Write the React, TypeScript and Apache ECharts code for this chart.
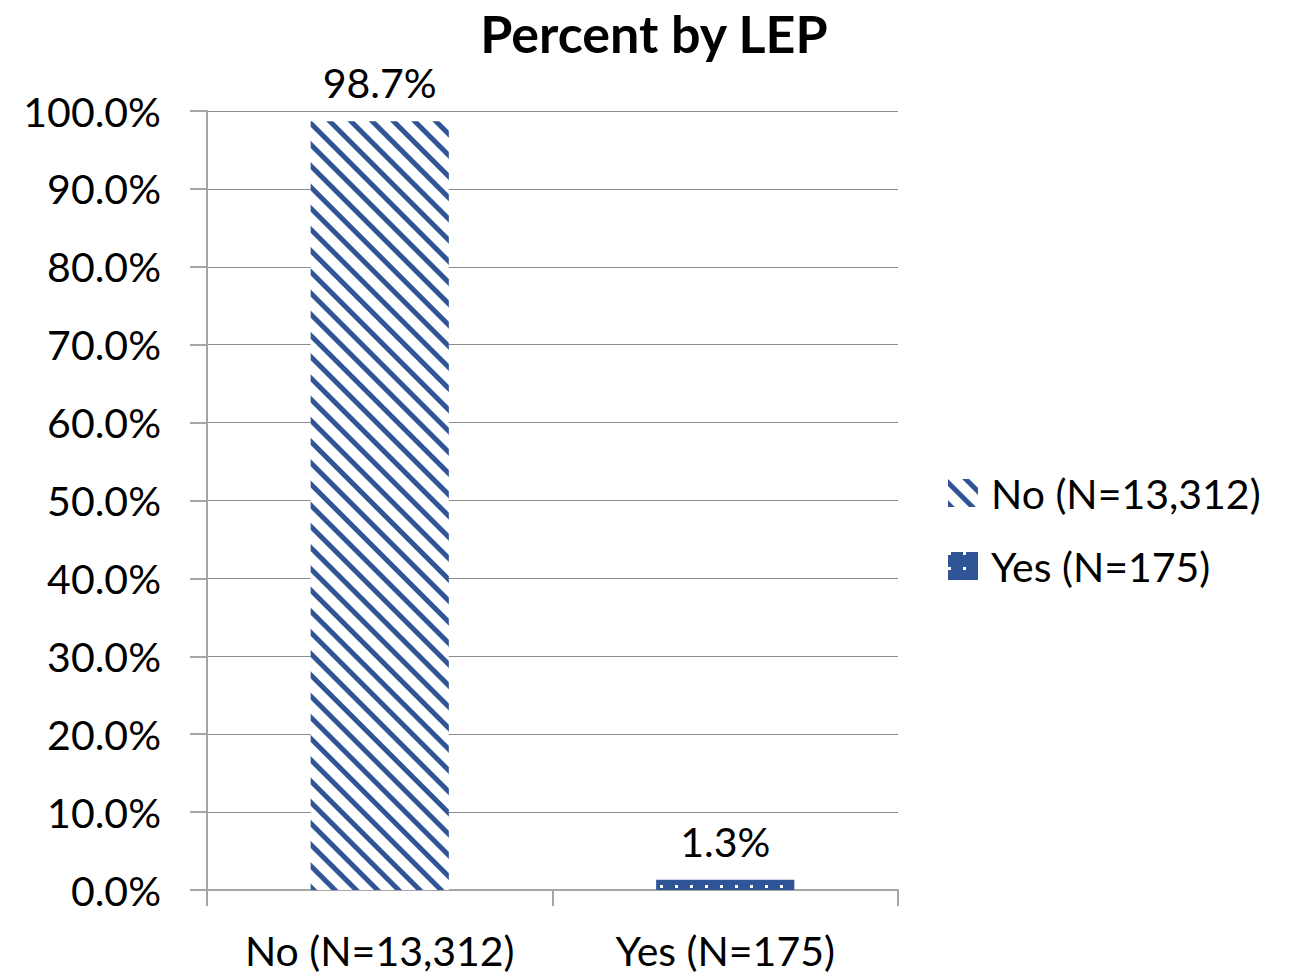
import React, { useEffect, useRef } from "react";
import * as echarts from "echarts";

const title = "Percent by LEP";
const categories = ["No (N=13,312)", "Yes (N=175)"];
const seriesNames = ["No (N=13,312)", "Yes (N=175)"];
const noValues: (number | string)[] = [98.7, "-"];
const yesValues: (number | string)[] = ["-", 1.3];

const BLUE = "#2F5597";
const FONT = "Lato";
const FS = 41;

export default function App() {
  const ref = useRef<HTMLDivElement>(null);
  useEffect(() => {
    const chart = echarts.init(ref.current!, null, { renderer: "svg" });
    const label = {
      show: true,
      position: "top",
      distance: 18,
      color: "#000",
      fontFamily: FONT,
      fontSize: FS,
      formatter: (p: any) => p.value.toFixed(1) + "%",
    };
    chart.setOption({
      animation: false,
      backgroundColor: "#fff",
      title: {
        text: title,
        left: 649,
        textAlign: "center",
        top: 2,
        textStyle: { fontFamily: FONT, fontSize: 52, fontWeight: "bold", color: "#000" },
      },
      legend: {
        orient: "vertical",
        left: 943,
        top: 466,
        itemWidth: 30,
        itemHeight: 28,
        itemGap: 29,
        icon: "rect",
        textStyle: { fontFamily: FONT, fontSize: FS, lineHeight: 44, color: "#000", padding: [0, 0, 0, 8] },
        data: seriesNames,
      },
      grid: { left: 207, right: 396, top: 111, bottom: 87, containLabel: false },
      xAxis: {
        type: "category",
        data: categories,
        axisLine: { lineStyle: { color: "#A6A6A6", width: 2 } },
        axisTick: { show: true, length: 16, lineStyle: { color: "#A6A6A6", width: 2 } },
        axisLabel: {
          fontFamily: FONT,
          fontSize: FS,
          color: "#000",
          margin: 40,
          interval: 0,
          hideOverlap: false,
        },
      },
      yAxis: {
        type: "value",
        min: 0,
        max: 100,
        interval: 10,
        axisLine: { show: true, lineStyle: { color: "#A6A6A6", width: 2 } },
        axisTick: { show: true, length: 17, lineStyle: { color: "#A6A6A6", width: 2 } },
        splitLine: { lineStyle: { color: "#8C8C8C", width: 1 } },
        axisLabel: {
          fontFamily: FONT,
          fontSize: FS,
          color: "#000",
          margin: 46,
          formatter: (v: number) => v.toFixed(1) + "%",
        },
      },
      series: [
        {
          name: seriesNames[0],
          type: "bar",
          stack: "s",
          barWidth: "40%",
          data: noValues,
          label,
          itemStyle: {
            color: "#fff",
            decal: {
              symbol: "rect",
              color: BLUE,
              dashArrayX: [1, 0],
              dashArrayY: [5, 10],
              rotation: Math.PI / 4,
            },
          },
        },
        {
          name: seriesNames[1],
          type: "bar",
          stack: "s",
          barWidth: "40%",
          data: yesValues,
          label,
          itemStyle: {
            color: BLUE,
            decal: {
              symbol: "rect",
              color: "#fff",
              symbolSize: 1,
              dashArrayX: [3, 12],
              dashArrayY: [3, 12],
            },
          },
        },
      ],
    });
    return () => chart.dispose();
  }, []);
  return <div ref={ref} style={{ width: 1294, height: 977, position: "absolute", left: 0, top: 0 }} />;
}
